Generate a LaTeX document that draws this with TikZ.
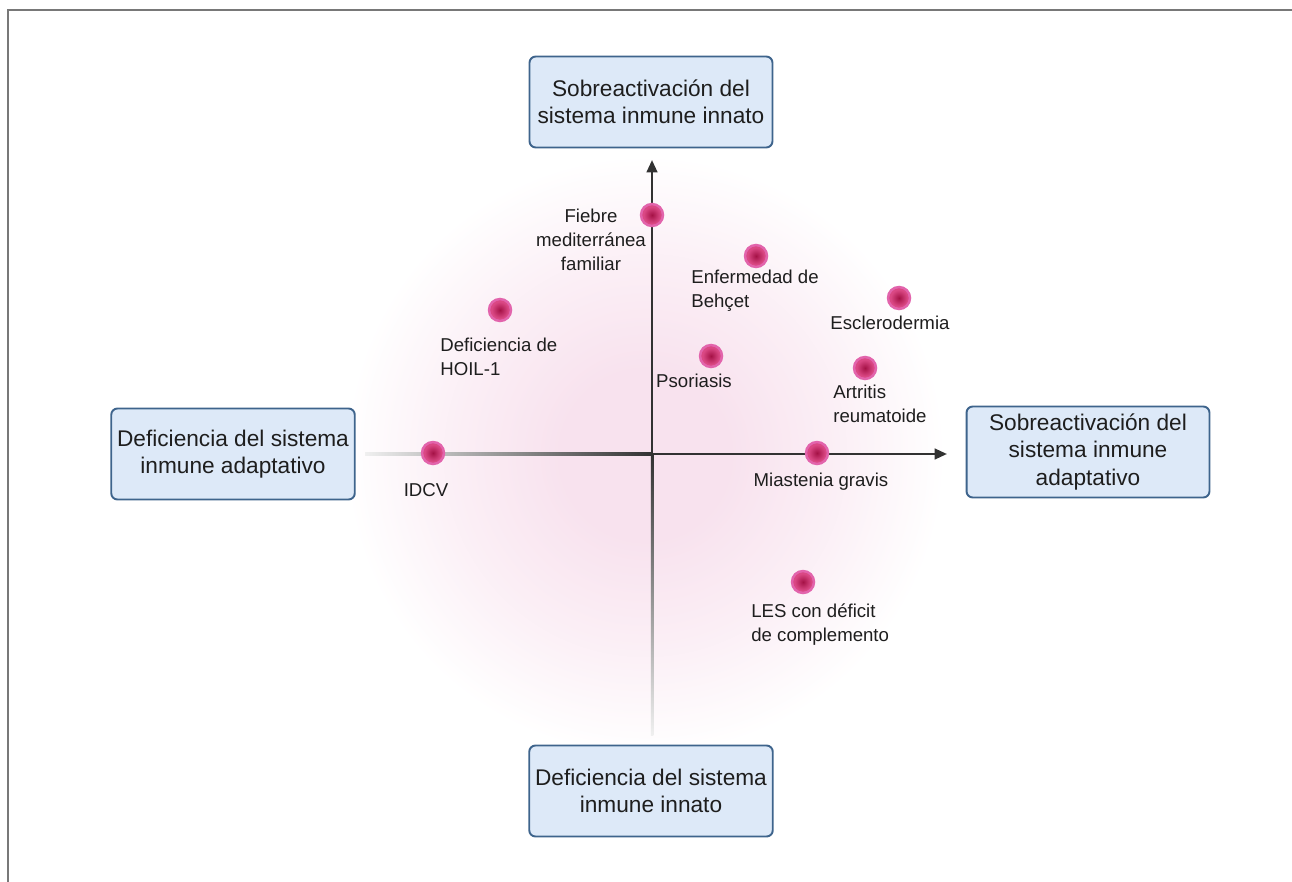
\documentclass[tikz,border=0pt]{standalone}
\usepackage{fontspec}
\setmainfont{Liberation Sans}
\usepackage{tikz}
\usetikzlibrary{arrows.meta, calc}
\definecolor{boxfill}{RGB}{221,233,248}
\definecolor{boxline}{RGB}{62,100,140}
\definecolor{glowpink}{RGB}{248,226,238}
\definecolor{dotcore}{RGB}{165,18,70}
\definecolor{dotouter}{RGB}{218,72,132}
\definecolor{dotring}{RGB}{226,100,172}
\definecolor{axisdark}{RGB}{50,50,50}
\definecolor{textdark}{RGB}{30,30,30}
\definecolor{framegray}{RGB}{120,120,120}
\pgfdeclareradialshading{pinkglow}{\pgfpoint{0bp}{0bp}}{color(0bp)=(glowpink); color(7bp)=(glowpink); color(16bp)=(glowpink!55!white); color(25bp)=(white); color(50bp)=(white)}
\pgfdeclareradialshading{dotglow}{\pgfpoint{0bp}{0bp}}{color(0bp)=(dotcore); color(19bp)=(dotouter); color(25bp)=(dotouter); color(50bp)=(dotouter)}

\begin{document}
\begin{tikzpicture}[
  x=0.02cm, y=-0.02cm,
  every node/.style={text=textdark},
  axisbox/.style={rectangle, draw=boxline, line width=1.1pt, fill=boxfill,
                  rounded corners=3.5pt, minimum width=4.86cm, minimum height=1.82cm,
                  align=center, font=\fontsize{12.9}{15.4}\selectfont},
  dot/.style={circle, draw=dotring, line width=1.4pt, shading=dotglow, shade,
              minimum size=0.44cm, inner sep=0pt},
  lbl/.style={inner sep=0pt, font=\fontsize{10.6}{13.7}\selectfont},
  axis/.style={-{Triangle[length=7pt, width=6pt]}, line width=1.4pt, axisdark},
]
  \useasboundingbox (0,0) rectangle (1292,882);

  % Background glow
  \shade[shading=pinkglow] (645,455) circle (6cm);

  % Axes
  \coordinate (o) at (652,454);
  \coordinate (ytop) at (652,160);
  \coordinate (ybot) at (652,735);
  \coordinate (xleft) at (365,454);
  \coordinate (xright) at (947,454);
  \shade[top color=axisdark, bottom color=black!6]
    ($(o)+(-1.25,0)$) rectangle ($(ybot)+(1.25,0)$);
  \shade[left color=black!6, right color=axisdark]
    ($(xleft)+(0,-1.25)$) rectangle ($(o)+(0,1.25)$);
  \draw[axis] (o) -- (ytop);
  \draw[axis] (o) -- (xright);

  % Diseases
  \node[dot] (fmf) at (652,215) {};
  \node[dot] (behcet) at (756,256) {};
  \node[dot] (escl) at (899,298) {};
  \node[dot] (hoil) at (500,310) {};
  \node[dot] (psor) at (711,356) {};
  \node[dot] (ar) at (865,368) {};
  \node[dot] (idcv) at (433,453) {};
  \node[dot] (mg) at (817,453) {};
  \node[dot] (les) at (803,582) {};

  % Disease labels
  \node[lbl, align=center] (fmfL) at (591,240)
    {Fiebre\\mediterránea\\familiar};
  \node[lbl, align=left, anchor=west] (behcetL) at (691,291)
    {Enfermedad de\\Behçet};
  \node[lbl] (esclL) at (890,323) {Esclerodermia};
  \node[lbl, align=left, anchor=west] (hoilL) at (440,357)
    {Deficiencia de\\HOIL-1};
  \node[lbl] (psorL) at (694,381) {Psoriasis};
  \node[lbl, align=left, anchor=west] (arL) at (833,404)
    {Artritis\\reumatoide};
  \node[lbl] (idcvL) at (426,490) {IDCV};
  \node[lbl] (mgL) at (821,482) {Miastenia gravis};
  \node[lbl, align=left, anchor=west] (lesL) at (751,625)
    {LES con déficit\\de complemento};

  % Axis boxes
  \node[axisbox] (innUp) at (651,102)
    {Sobreactivación del\\sistema inmune innato};
  \node[axisbox] (adaDown) at (233,454)
    {Deficiencia del sistema\\inmune adaptativo};
  \node[axisbox] (adaUp) at (1088,452)
    {Sobreactivación del\\sistema inmune\\adaptativo};
  \node[axisbox] (innDown) at (651,791)
    {Deficiencia del sistema\\inmune innato};

  % Frame
  \draw[framegray, line width=1.2pt] (1292,10) -- (8,10) -- (8,882);
\end{tikzpicture}
\end{document}
